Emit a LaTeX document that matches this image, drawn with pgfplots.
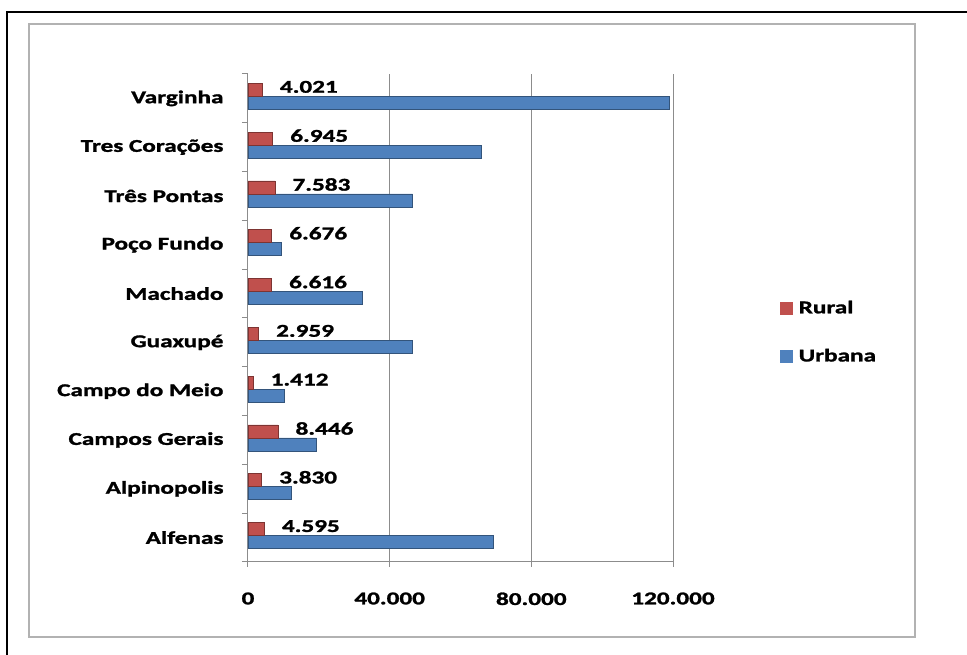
\documentclass[border=0pt]{standalone}
\usepackage{fontspec}
\setmainfont{Carlito}[FakeStretch=1.4, BoldFeatures={FakeBold=1.5}]
\usepackage{pgfplots}
\pgfplotsset{compat=1.18}
\definecolor{rural}{RGB}{192,80,77}
\definecolor{urbana}{RGB}{79,129,189}
\newcommand\lbl{\fontsize{18}{20}\selectfont\bfseries}
\begin{document}
\begin{tikzpicture}
\useasboundingbox (0pt,0pt) rectangle (967pt,655pt);
\draw[black, line width=2pt] (967pt,643pt) -- (7pt,643pt) -- (7pt,0pt);
\draw[black!30, line width=2.5pt] (29pt,18pt) rectangle (915pt,631pt);
\begin{axis}[
  at={(248pt,93pt)}, anchor=south west,
  scale only axis, width=425pt, height=488pt,
  xbar, bar width=13pt,
  xmin=0, xmax=120000, ymin=-0.5, ymax=9.5,
  axis lines*=left,
  axis line style={black!45, line width=1pt},
  xtick={0,40000,80000,120000},
  scaled x ticks=false,
  /pgf/number format/fixed,
  /pgf/number format/precision=0,
  /pgf/number format/1000 sep={.},
  /pgf/number format/assume math mode=true,
  xmajorgrids,
  major grid style={black!45, line width=1pt},
  tick align=outside,
  major x tick style={black!45, line width=1pt},
  major tick length=5pt,
  ytick={0,...,9},
  yticklabels={Alfenas,Alpinopolis,Campos Gerais,Campo do Meio,Guaxupé,Machado,Poço Fundo,Três Pontas,Tres Corações,Varginha},
  major y tick style={draw=none},
  minor ytick={-0.5,0.5,...,9.5},
  minor y tick style={black!45, line width=1pt},
  minor tick length=6pt,
  ticklabel style={font=\lbl},
  yticklabel style={anchor=east, xshift=-16pt},
  xticklabel style={yshift=-22pt},
  legend style={at={(1.252,0.54)}, anchor=north west, draw=none, fill=none,
    font=\lbl, row sep=30pt, inner sep=0pt},
  legend cell align=left,
]
\addplot[fill=urbana, draw=urbana!65!black, line width=0.7pt, bar shift=-4.5pt, forget plot]
  coordinates {(69400,0) (12200,1) (19400,2) (10300,3) (46300,4) (32300,5) (9500,6) (46500,7) (66000,8) (119000,9)};
\addplot[fill=rural, draw=rural!65!black, line width=0.7pt, bar shift=8.5pt, forget plot,
  point meta=x, nodes near coords,
  nodes near coords style={anchor=west, xshift=14pt, yshift=3pt, font=\lbl, black}]
  coordinates {(4595,0) (3830,1) (8446,2) (1412,3) (2959,4) (6616,5) (6676,6) (7583,7) (6945,8) (4021,9)};
\addlegendimage{legend image code/.code={\fill[rural] (0pt,-6pt) rectangle (12pt,6pt); \path (16pt,0pt);}}
\addlegendentry{Rural}
\addlegendimage{legend image code/.code={\fill[urbana] (0pt,-6pt) rectangle (12pt,6pt); \path (16pt,0pt);}}
\addlegendentry{Urbana}
\end{axis}
\end{tikzpicture}
\end{document}
